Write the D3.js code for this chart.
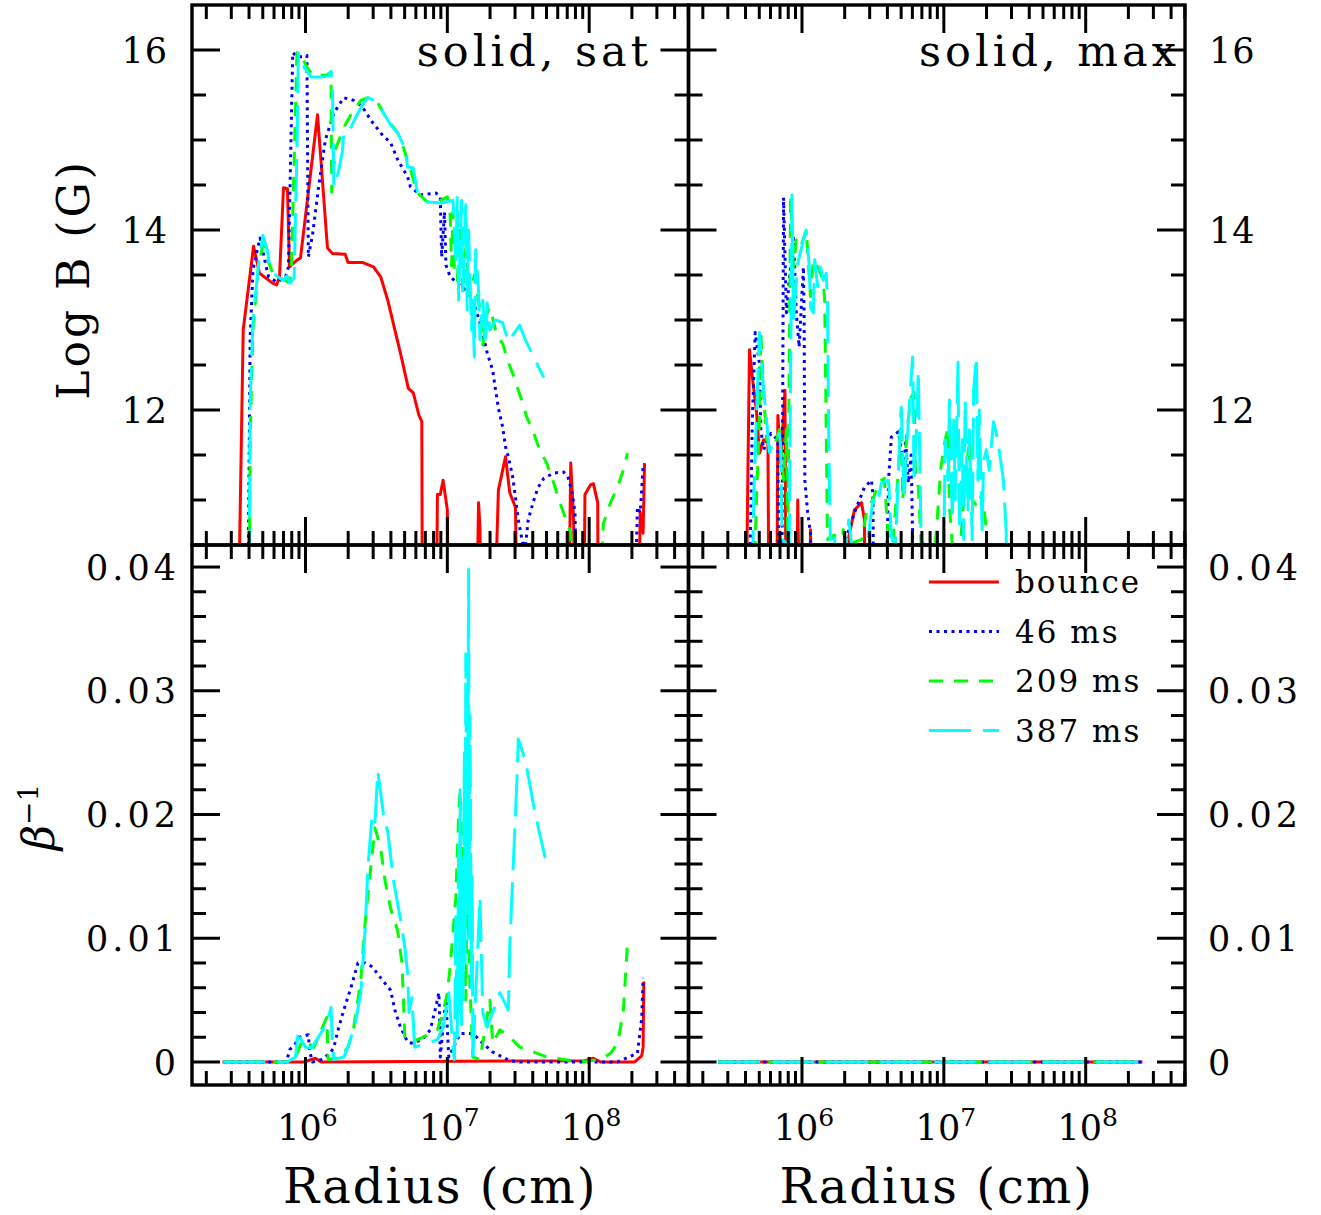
<!DOCTYPE html>
<html>
<head>
<meta charset="utf-8">
<script src="https://cdn.jsdelivr.net/npm/d3@7"></script>
<style>
  body { margin: 0; background: #fff; }
  text { font-family: "DejaVu Serif", serif; fill: #000; }
</style>
</head>
<body>
<div id="chart"></div>
<script>
// series keys / legend
const seriesNames = ["bounce", "46 ms", "209 ms", "387 ms"];
const seriesColors = ["#ff0000", "#0000ff", "#00ff00", "#00ffff"];
const seriesDash = [null, "3,4.5", "14,11", "42,12"];

// tick values
const xMajorTicks = [1e6, 1e7, 1e8];
const bMajorTicks = [12, 14, 16];
const betaMajorTicks = [0, 0.01, 0.02, 0.03, 0.04];
const betaTickLabels = ["0", "0.01", "0.02", "0.03", "0.04"];

// data: [log10 radius (cm), value]; values below the axis fall off the panel
const satBounceB = [[5.52,9],[5.561,12.89],[5.634,13.82],[5.676,13.52],[5.768,13.41],[5.796,13.39],[5.817,13.48],[5.845,14.47],[5.873,14.46],[5.887,13.59],[5.944,13.67],[5.965,13.69],[6.085,15.28],[6.155,13.80],[6.19,13.74],[6.28,13.73],[6.30,13.64],[6.40,13.64],[6.48,13.59],[6.53,13.48],[6.58,13.22],[6.65,12.76],[6.68,12.56],[6.725,12.24],[6.76,12.19],[6.80,11.94],[6.82,11.87],[6.825,9],[6.92,9],[6.93,11.06],[6.95,11.06],[6.97,11.22],[7.0,10.89],[7.01,9],[7.20,9],[7.22,10.97],[7.23,10.70],[7.24,9],[7.32,9],[7.36,11.11],[7.41,11.48],[7.44,11.08],[7.48,10.92],[7.50,9],[7.85,9],[7.87,11.41],[7.89,10.78],[7.90,9],[7.96,9],[7.97,11.06],[8.01,11.17],[8.03,11.18],[8.06,10.97],[8.065,9],[8.34,9],[8.36,10.86],[8.38,10.63],[8.39,11.41]];
const sat46B = [[5.59,9],[5.61,12.81],[5.63,13.56],[5.66,13.78],[5.68,13.91],[5.72,13.61],[5.74,13.48],[5.80,13.42],[5.86,13.48],[5.88,13.59],[5.91,15.97],[5.95,15.92],[6.01,15.94],[6.02,13.70],[6.05,13.95],[6.09,14.45],[6.14,15.0],[6.20,15.30],[6.27,15.47],[6.34,15.44],[6.40,15.37],[6.47,15.20],[6.54,15.06],[6.60,14.97],[6.65,14.78],[6.72,14.59],[6.74,14.48],[6.81,14.39],[6.92,14.41],[6.95,14.37],[6.96,13.70],[6.98,14.2],[6.99,13.61],[7.02,13.48],[7.13,13.33],[7.18,13.22],[7.23,12.97],[7.28,12.64],[7.32,12.44],[7.34,12.22],[7.36,12.02],[7.39,11.81],[7.41,11.59],[7.43,11.48],[7.46,11.26],[7.48,11.03],[7.50,10.78],[7.53,10.53],[7.55,10.48],[7.57,10.78],[7.61,11.0],[7.64,11.14],[7.68,11.24],[7.75,11.30],[7.82,11.31],[7.85,11.26],[7.88,11.08],[7.90,10.86],[7.92,9],[8.31,9],[8.34,10.92],[8.36,10.86],[8.38,11.37]];
const sat209B = [[5.60,9],[5.61,11.70],[5.63,12.89],[5.67,13.63],[5.70,13.83],[5.74,13.64],[5.77,13.52],[5.82,13.47],[5.88,13.42],[5.90,13.5],[5.94,15.97],[5.96,15.97],[6.01,15.81],[6.05,15.72],[6.15,15.72],[6.18,15.76],[6.185,14.42],[6.21,14.89],[6.27,15.14],[6.32,15.28],[6.39,15.44],[6.44,15.47],[6.51,15.41],[6.58,15.22],[6.65,15.08],[6.69,14.92],[6.74,14.67],[6.79,14.41],[6.86,14.31],[6.93,14.31],[7.0,14.37],[7.02,14.17],[7.03,13.6],[7.04,14.2],[7.05,13.5],[7.07,13.44],[7.09,14.0],[7.11,13.3],[7.13,13.8],[7.16,13.26],[7.19,13.5],[7.23,13.11],[7.25,12.72],[7.28,13.08],[7.30,13.14],[7.34,12.89],[7.36,12.8],[7.39,12.74],[7.43,12.53],[7.46,12.41],[7.53,12.08],[7.56,11.92],[7.61,11.74],[7.65,11.56],[7.70,11.41],[7.75,11.19],[7.78,11.03],[7.83,10.81],[7.87,10.63],[7.89,9],[8.05,9],[8.10,10.74],[8.15,10.97],[8.20,11.14],[8.24,11.33],[8.27,11.52]];
const sat387B = [[5.60,9],[5.61,12.08],[5.63,13.0],[5.67,13.63],[5.70,13.94],[5.73,13.78],[5.75,13.59],[5.79,13.5],[5.84,13.44],[5.87,13.49],[5.89,13.41],[5.92,13.47],[5.94,14.89],[5.95,15.97],[5.99,15.81],[6.04,15.7],[6.11,15.7],[6.16,15.71],[6.18,15.76],[6.19,15.63],[6.20,14.48],[6.23,14.63],[6.26,14.87],[6.27,15.08],[6.30,15.08],[6.32,15.14],[6.37,15.30],[6.41,15.41],[6.44,15.47],[6.51,15.42],[6.55,15.30],[6.60,15.17],[6.65,15.08],[6.70,14.91],[6.72,14.70],[6.76,14.69],[6.79,14.41],[6.81,14.37],[6.86,14.31],[6.96,14.30],[7.04,14.33],[7.06,13.67],[7.07,14.36],[7.08,13.22],[7.10,14.33],[7.11,13.33],[7.13,14.28],[7.14,13.11],[7.15,14.0],[7.17,12.89],[7.18,13.22],[7.19,12.59],[7.20,13.78],[7.22,13.33],[7.23,12.78],[7.25,13.22],[7.27,12.72],[7.28,13.19],[7.30,12.89],[7.34,13.0],[7.39,12.97],[7.43,12.76],[7.51,12.94],[7.55,12.78],[7.68,12.36]];

const maxBounceB = [[5.60,9],[5.63,12.67],[5.65,12.37],[5.68,11.97],[5.70,11.52],[5.73,11.67],[5.76,11.63],[5.77,9],[5.82,9],[5.83,11.94],[5.85,11.41],[5.86,11.67],[5.88,12.22],[5.89,9],[5.96,9],[5.97,11.0],[5.99,9],[6.05,9],[6.06,10.67],[6.07,9],[6.32,9],[6.33,10.59],[6.37,10.89],[6.42,10.97],[6.44,10.78],[6.45,9]];
const max46B = [[5.62,9],[5.65,11.89],[5.67,12.86],[5.70,12.52],[5.71,11.78],[5.73,11.56],[5.78,11.74],[5.83,11.67],[5.84,9],[5.86,10.56],[5.87,14.36],[5.89,13.08],[5.91,13.44],[5.94,13.91],[5.96,13.08],[5.98,12.70],[6.01,13.59],[6.015,13.08],[6.02,11.22],[6.04,10.86],[6.06,10.63],[6.08,9],[6.27,9],[6.30,10.52],[6.37,10.86],[6.44,11.14],[6.49,11.22],[6.50,11.06],[6.51,9],[6.58,9],[6.61,11.22],[6.63,11.70],[6.68,11.76],[6.70,11.56],[6.72,11.37],[6.73,11.67],[6.75,11.19],[6.77,11.5],[6.78,10.56],[6.80,9]];
const max209B = [[5.64,9],[5.68,11.03],[5.70,11.89],[5.71,12.86],[5.73,12.19],[5.75,11.67],[5.78,11.56],[5.82,11.67],[5.84,11.78],[5.87,11.22],[5.89,11.78],[5.90,10.56],[5.92,14.37],[5.94,13.59],[5.96,13.89],[5.99,13.81],[6.03,14.0],[6.06,13.26],[6.08,13.67],[6.12,13.56],[6.15,13.44],[6.16,13.22],[6.18,10.56],[6.19,10.58],[6.23,10.61],[6.26,9],[6.29,10.67],[6.31,10.5],[6.42,10.56],[6.46,10.91],[6.50,11.0],[6.54,11.2],[6.58,11.24],[6.61,10.56],[6.64,10.5],[6.68,11.33],[6.70,12.0],[6.71,11.0],[6.74,11.78],[6.77,12.14],[6.79,12.2],[6.80,11.33],[6.82,11.14],[6.84,10.5],[6.94,10.5],[6.98,11.37],[7.01,11.67],[7.03,11.81],[7.04,10.92],[7.06,10.5],[7.12,10.56],[7.15,11.22],[7.18,11.67],[7.20,11.0],[7.24,10.92],[7.27,11.08],[7.30,10.67],[7.31,9]];
const max387B = [[5.64,9],[5.66,11.03],[5.70,12.86],[5.73,12.22],[5.75,11.89],[5.77,11.53],[5.80,11.63],[5.84,11.74],[5.85,11.59],[5.86,10.56],[5.91,10.5],[5.93,14.39],[5.94,13.0],[5.97,13.63],[6.01,13.89],[6.03,14.0],[6.05,13.63],[6.06,13.14],[6.08,13.08],[6.09,13.67],[6.11,13.37],[6.13,13.59],[6.15,13.44],[6.17,13.52],[6.18,13.22],[6.19,11.52],[6.20,10.56],[6.23,10.58],[6.26,9],[6.31,10.5],[6.33,10.78],[6.35,10.5],[6.46,10.5],[6.50,11.0],[6.53,10.94],[6.56,11.19],[6.61,11.22],[6.63,10.59],[6.66,10.5],[6.68,11.33],[6.70,12.03],[6.72,11.0],[6.75,11.89],[6.78,12.59],[6.79,11.22],[6.81,11.89],[6.82,12.44],[6.84,10.56],[6.86,10.5],[7.0,10.5],[7.01,11.67],[7.03,11.22],[7.04,12.11],[7.06,10.78],[7.07,11.89],[7.08,11.0],[7.10,12.53],[7.11,10.67],[7.13,11.67],[7.14,10.56],[7.15,12.11],[7.17,10.89],[7.18,11.78],[7.20,10.56],[7.21,12.22],[7.23,12.59],[7.24,11.22],[7.25,12.0],[7.27,10.67],[7.28,11.44],[7.30,11.56],[7.32,11.33],[7.35,11.87],[7.38,11.67],[7.42,11.22],[7.44,10.63],[7.445,9]];

const satBounceBeta = [[5.415,0],[5.99,0],[6.07,0.0003],[6.11,0],[7.97,0.0001],[8.03,0.0003],[8.08,0],[8.32,0],[8.37,0.0005],[8.38,0.0012],[8.385,0.0065]];
const sat46Beta = [[5.42,0],[5.86,0],[5.87,0.0002],[5.89,0.001],[5.93,0.0015],[5.96,0.002],[6.02,0.0022],[6.03,0.0008],[6.05,0],[6.12,0.0002],[6.18,0.0008],[6.20,0.0012],[6.23,0.0026],[6.27,0.0042],[6.32,0.0060],[6.37,0.0080],[6.42,0.0080],[6.47,0.0077],[6.55,0.0065],[6.60,0.0058],[6.63,0.0042],[6.67,0.0028],[6.72,0.0016],[6.76,0.0015],[6.83,0.0019],[6.88,0.0026],[6.92,0.0045],[6.94,0.0056],[6.945,0.0040],[6.95,0.0004],[6.98,0.0040],[6.99,0.0050],[7.01,0.0004],[7.09,0.0023],[7.18,0.0023],[7.25,0.0015],[7.32,0.0008],[7.39,0.0004],[7.44,0.0001],[7.51,0],[8.2,0],[8.34,0.0007],[8.37,0.0035],[8.38,0.0068]];
const sat209Beta = [[5.42,0],[5.86,0],[5.93,0.0004],[5.98,0.0018],[6.06,0.0012],[6.15,0.0036],[6.16,0.0002],[6.25,0.0004],[6.30,0.0012],[6.34,0.0028],[6.39,0.0066],[6.42,0.0112],[6.46,0.0157],[6.49,0.0189],[6.53,0.0173],[6.56,0.0147],[6.60,0.0124],[6.65,0.0106],[6.68,0.0080],[6.69,0.0052],[6.70,0.0020],[6.74,0.0016],[6.81,0.0019],[6.93,0.0026],[6.97,0.0040],[7.0,0.0056],[7.02,0.0077],[7.06,0.0133],[7.08,0.0200],[7.09,0.0220],[7.11,0.0150],[7.13,0.0050],[7.14,0.0150],[7.16,0.0060],[7.18,0.0004],[7.23,0.0002],[7.30,0.0050],[7.32,0.0015],[7.37,0.0026],[7.44,0.0020],[7.51,0.0012],[7.61,0.0008],[7.70,0.0004],[7.82,0.0002],[7.94,0],[8.08,0.0002],[8.15,0.0007],[8.20,0.0015],[8.24,0.0040],[8.27,0.0096]];
const sat387Beta = [[5.42,0],[5.87,0],[5.93,0.0004],[5.95,0.0026],[5.97,0.0018],[6.0,0.0012],[6.04,0.0011],[6.08,0.0018],[6.15,0.0031],[6.18,0.0044],[6.19,0.0015],[6.20,0.0002],[6.27,0.0004],[6.30,0.0012],[6.35,0.0031],[6.39,0.0056],[6.42,0.0106],[6.44,0.0157],[6.47,0.0200],[6.49,0.0194],[6.51,0.0235],[6.55,0.0200],[6.58,0.0186],[6.62,0.0147],[6.67,0.0115],[6.70,0.0093],[6.72,0.0072],[6.73,0.0040],[6.75,0.0052],[6.77,0.0012],[6.86,0.0015],[6.93,0.0018],[6.97,0.0028],[7.01,0.0056],[7.04,0.0012],[7.05,0.0002],[7.06,0.012],[7.07,0.002],[7.08,0.018],[7.085,0.004],[7.09,0.022],[7.10,0.003],[7.105,0.016],[7.11,0.005],[7.12,0.025],[7.125,0.008],[7.13,0.033],[7.14,0.012],[7.15,0.0398],[7.155,0.010],[7.16,0.028],[7.17,0.006],[7.175,0.015],[7.18,0.0002],[7.23,0.0133],[7.25,0.0040],[7.28,0.0028],[7.32,0.0040],[7.37,0.0056],[7.43,0.0042],[7.44,0.0093],[7.46,0.0147],[7.49,0.0226],[7.50,0.0261],[7.55,0.0244],[7.62,0.0200],[7.69,0.0165]];

const maxBounceBeta = [[5.41,0],[8.40,0]];
const max46Beta = [[5.41,0],[8.40,0]];
const max209Beta = [[5.41,0],[8.40,0]];
const max387Beta = [[5.41,0],[8.40,0]];

// layout
const W = 1321, H = 1215;
const svg = d3.select("#chart").append("svg").attr("width", W).attr("height", H);

const xLeft = d3.scaleLog().domain([Math.pow(10, 5.2), Math.pow(10, 8.7)]).range([192, 688.5]);
const xRight = d3.scaleLog().domain([Math.pow(10, 5.2), Math.pow(10, 8.7)]).range([688.5, 1185]);
const yTop = d3.scaleLinear().domain([10.5, 16.5]).range([545, 5]);
const yBot = d3.scaleLinear().domain([-0.00186, 0.04178]).range([1085, 545]);

const panels = [
  { x: xLeft,  y: yTop, lines: [satBounceB, sat46B, sat209B, sat387B], label: "solid, sat", labelX: 652, yMinor: 0.5, yMajor: bMajorTicks },
  { x: xRight, y: yTop, lines: [maxBounceB, max46B, max209B, max387B], label: "solid, max", labelX: 1180, yMinor: 0.5, yMajor: bMajorTicks },
  { x: xLeft,  y: yBot, lines: [satBounceBeta, sat46Beta, sat209Beta, sat387Beta], yMinor: 0.002, yMajor: betaMajorTicks },
  { x: xRight, y: yBot, lines: [maxBounceBeta, max46Beta, max209Beta, max387Beta], yMinor: 0.002, yMajor: betaMajorTicks }
];

const xMinorTicks = [];
[5, 6, 7, 8].forEach(d => {
  for (let m = 2; m <= 9; m++) {
    const v = m * Math.pow(10, d);
    if (v > xLeft.domain()[0] && v < xLeft.domain()[1]) xMinorTicks.push(v);
  }
});

const majorLen = 28, minorLen = 14;

panels.forEach((p, i) => {
  const [x0, x1] = p.x.range();
  const [y1, y0] = p.y.range();
  const g = svg.append("g");

  g.append("clipPath").attr("id", "clip" + i)
    .append("rect").attr("x", x0).attr("y", y0).attr("width", x1 - x0).attr("height", y1 - y0);

  const line = d3.line()
    .x(d => p.x(Math.pow(10, d[0])))
    .y(d => p.y(d[1]));

  const lg = g.append("g").attr("clip-path", `url(#clip${i})`);
  p.lines.forEach((data, k) => {
    lg.append("path")
      .datum(data)
      .attr("d", line)
      .attr("fill", "none")
      .attr("stroke", seriesColors[k])
      .attr("stroke-width", 3)
      .attr("stroke-dasharray", seriesDash[k])
      .attr("stroke-linejoin", "round");
  });

  const tk = g.append("g").attr("stroke", "#000").attr("stroke-width", 3);
  // x ticks top and bottom
  xMinorTicks.forEach(v => {
    const xx = p.x(v);
    tk.append("line").attr("x1", xx).attr("x2", xx).attr("y1", y0).attr("y2", y0 + minorLen);
    tk.append("line").attr("x1", xx).attr("x2", xx).attr("y1", y1).attr("y2", y1 - minorLen);
  });
  xMajorTicks.forEach(v => {
    const xx = p.x(v);
    tk.append("line").attr("x1", xx).attr("x2", xx).attr("y1", y0).attr("y2", y0 + majorLen);
    tk.append("line").attr("x1", xx).attr("x2", xx).attr("y1", y1).attr("y2", y1 - majorLen);
  });
  // y ticks left and right
  const yd = p.y.domain();
  const yMinorTicks = d3.range(Math.ceil(yd[0] / p.yMinor) * p.yMinor, yd[1], p.yMinor);
  yMinorTicks.forEach(v => {
    const yy = p.y(v);
    const isMajor = p.yMajor.some(m => Math.abs(m - v) < p.yMinor / 10);
    const len = isMajor ? majorLen : minorLen;
    tk.append("line").attr("x1", x0).attr("x2", x0 + len).attr("y1", yy).attr("y2", yy);
    tk.append("line").attr("x1", x1).attr("x2", x1 - len).attr("y1", yy).attr("y2", yy);
  });

  g.append("rect")
    .attr("x", x0).attr("y", y0).attr("width", x1 - x0).attr("height", y1 - y0)
    .attr("fill", "none").attr("stroke", "#000").attr("stroke-width", 3.4);

  if (p.label) {
    g.append("text")
      .attr("x", p.labelX).attr("y", 66)
      .attr("text-anchor", "end")
      .style("font-size", "43px")
      .style("letter-spacing", "4px")
      .text(p.label);
  }
});

// y tick labels
const tickFont = "35px";
bMajorTicks.forEach(v => {
  svg.append("text").attr("x", 168).attr("y", yTop(v)).attr("dy", "0.36em")
    .attr("text-anchor", "end").style("font-size", tickFont).style("letter-spacing", "1px").text(v);
  svg.append("text").attr("x", 1209).attr("y", yTop(v)).attr("dy", "0.36em")
    .attr("text-anchor", "start").style("font-size", tickFont).style("letter-spacing", "1px").text(v);
});
betaMajorTicks.forEach((v, i) => {
  svg.append("text").attr("x", 180).attr("y", yBot(v)).attr("dy", "0.36em")
    .attr("text-anchor", "end").style("font-size", tickFont).style("letter-spacing", "4px").text(betaTickLabels[i]);
  svg.append("text").attr("x", 1208).attr("y", yBot(v)).attr("dy", "0.36em")
    .attr("text-anchor", "start").style("font-size", tickFont).style("letter-spacing", "4px").text(betaTickLabels[i]);
});

// x tick labels
[xLeft, xRight].forEach(xs => {
  xMajorTicks.forEach(v => {
    const t = svg.append("text").attr("x", xs(v) + 2).attr("y", 1140)
      .attr("text-anchor", "middle").style("font-size", tickFont);
    t.append("tspan").text("10");
    t.append("tspan").attr("dy", -14).style("font-size", "25px").text(Math.round(Math.log10(v)));
  });
  const [a, b] = xs.range();
  svg.append("text").attr("x", (a + b) / 2).attr("y", 1203)
    .attr("text-anchor", "middle").style("font-size", "48px").style("letter-spacing", "2px").text("Radius (cm)");
});

// y axis titles
svg.append("text")
  .attr("transform", `translate(89, ${yTop(13.45)}) rotate(-90)`)
  .attr("text-anchor", "middle").style("font-size", "44px").style("letter-spacing", "3px").text("Log B (G)");

const beta = svg.append("text")
  .attr("transform", `translate(54, ${yBot(0.0198)}) rotate(-90)`)
  .attr("text-anchor", "middle").style("font-size", "44px");
beta.append("tspan").style("font-style", "italic").text("β");
beta.append("tspan").attr("dy", -16).style("font-size", "28px").text("−1");

// legend
const legend = svg.append("g");
seriesNames.forEach((name, k) => {
  const yy = 582 + k * 49.5;
  legend.append("line")
    .attr("x1", 929).attr("x2", 999).attr("y1", yy).attr("y2", yy)
    .attr("stroke", seriesColors[k]).attr("stroke-width", 3)
    .attr("stroke-dasharray", seriesDash[k]);
  legend.append("text").attr("x", 1015).attr("y", yy).attr("dy", "0.36em")
    .style("font-size", "31px").style("letter-spacing", "2px").text(name);
});
</script>
</body>
</html>
